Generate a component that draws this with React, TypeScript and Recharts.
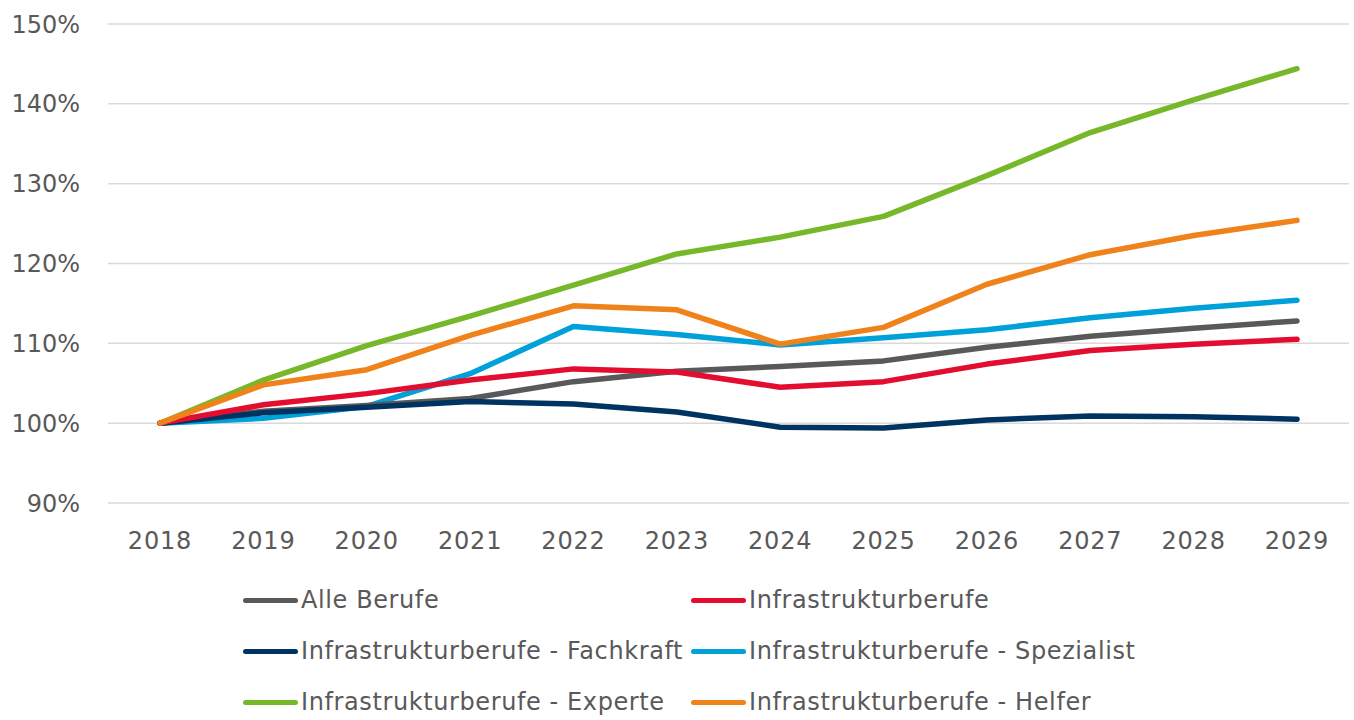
import { LineChart, Line, XAxis, YAxis, CartesianGrid } from "recharts";

const YEARS = ["2018", "2019", "2020", "2021", "2022", "2023", "2024", "2025", "2026", "2027", "2028", "2029"];

const ALLE_BERUFE = [100, 101.5, 102.2, 103.1, 105.2, 106.5, 107.1, 107.8, 109.5, 110.9, 111.9, 112.8];
const INFRA = [100, 102.3, 103.7, 105.4, 106.8, 106.4, 104.5, 105.2, 107.4, 109.1, 109.9, 110.5];
const INFRA_FACHKRAFT = [100, 101.3, 102.0, 102.7, 102.4, 101.4, 99.5, 99.4, 100.4, 100.9, 100.8, 100.5];
const INFRA_SPEZIALIST = [100, 100.6, 102.1, 106.2, 112.1, 111.1, 109.8, 110.7, 111.7, 113.2, 114.4, 115.4];
const INFRA_EXPERTE = [100, 105.4, 109.7, 113.4, 117.3, 121.2, 123.3, 125.9, 131.0, 136.4, 140.5, 144.4];
const INFRA_HELFER = [100, 104.8, 106.7, 111.0, 114.7, 114.2, 109.9, 112.0, 117.4, 121.1, 123.5, 125.4];

const Y_TICKS = [90, 100, 110, 120, 130, 140, 150];

const SERIES = [
  { key: "alle", name: "Alle Berufe", values: ALLE_BERUFE, color: "#595959" },
  { key: "infra", name: "Infrastrukturberufe", values: INFRA, color: "#E30D30" },
  { key: "fach", name: "Infrastrukturberufe - Fachkraft", values: INFRA_FACHKRAFT, color: "#003362" },
  { key: "spez", name: "Infrastrukturberufe - Spezialist", values: INFRA_SPEZIALIST, color: "#00A0D8" },
  { key: "exp", name: "Infrastrukturberufe - Experte", values: INFRA_EXPERTE, color: "#77B82A" },
  { key: "helf", name: "Infrastrukturberufe - Helfer", values: INFRA_HELFER, color: "#F0821C" },
];

// draw order in the reference: helfer on top of everything
const DRAW_ORDER = ["exp", "spez", "alle", "fach", "infra", "helf"];

const chartData = YEARS.map((year, i) => {
  const row: Record<string, string | number> = { year };
  SERIES.forEach((s) => {
    row[s.key] = s.values[i];
  });
  return row;
});

const FONT = "'DejaVu Sans', sans-serif";
const TEXT_COLOR = "#595959";

export default function App() {
  return (
    <div style={{ position: "absolute", left: 0, top: 0, width: 1354, height: 720, background: "#fff", fontFamily: FONT }}>
      <LineChart
        width={1354}
        height={720}
        data={chartData}
        margin={{ top: 24, right: 5, bottom: 157, left: 0 }}
      >
        <CartesianGrid vertical={false} stroke="#D9D9D9" strokeWidth={1.5} />
        <XAxis
          dataKey="year"
          axisLine={false}
          tickLine={false}
          tickSize={0}
          tickMargin={29}
          height={60}
          padding={{ left: 52, right: 52 }}
          tick={{ fill: TEXT_COLOR, fontSize: 24, fontFamily: FONT, letterSpacing: 0.8 }}
        />
        <YAxis
          domain={[90, 150]}
          ticks={Y_TICKS}
          width={108}
          axisLine={false}
          tickLine={false}
          tickSize={0}
          tickMargin={28}
          tickFormatter={(v: number) => `${v}%`}
          tick={{ fill: TEXT_COLOR, fontSize: 24, fontFamily: FONT }}
        />
        {DRAW_ORDER.map((k) => {
          const s = SERIES.find((x) => x.key === k)!;
          return (
            <Line
              key={s.key}
              type="linear"
              dataKey={s.key}
              name={s.name}
              stroke={s.color}
              strokeWidth={5.5}
              strokeLinecap="round"
              strokeLinejoin="round"
              dot={false}
              activeDot={false}
              isAnimationActive={false}
            />
          );
        })}
      </LineChart>
      {/* legend, two columns */}
      {SERIES.map((s, i) => {
        const col = i % 2;
        const row = Math.floor(i / 2);
        return (
          <div
            key={s.key}
            style={{
              position: "absolute",
              left: col === 0 ? 243 : 691,
              top: 600 + row * 51 - 15,
              height: 30,
              display: "flex",
              alignItems: "center",
              whiteSpace: "nowrap",
            }}
          >
            <span
              style={{
                display: "inline-block",
                width: 55,
                height: 5,
                borderRadius: 3,
                background: s.color,
                marginRight: 3,
              }}
            />
            <span style={{ fontSize: 24, color: TEXT_COLOR, lineHeight: "30px", letterSpacing: 0.6 }}>{s.name}</span>
          </div>
        );
      })}
    </div>
  );
}
